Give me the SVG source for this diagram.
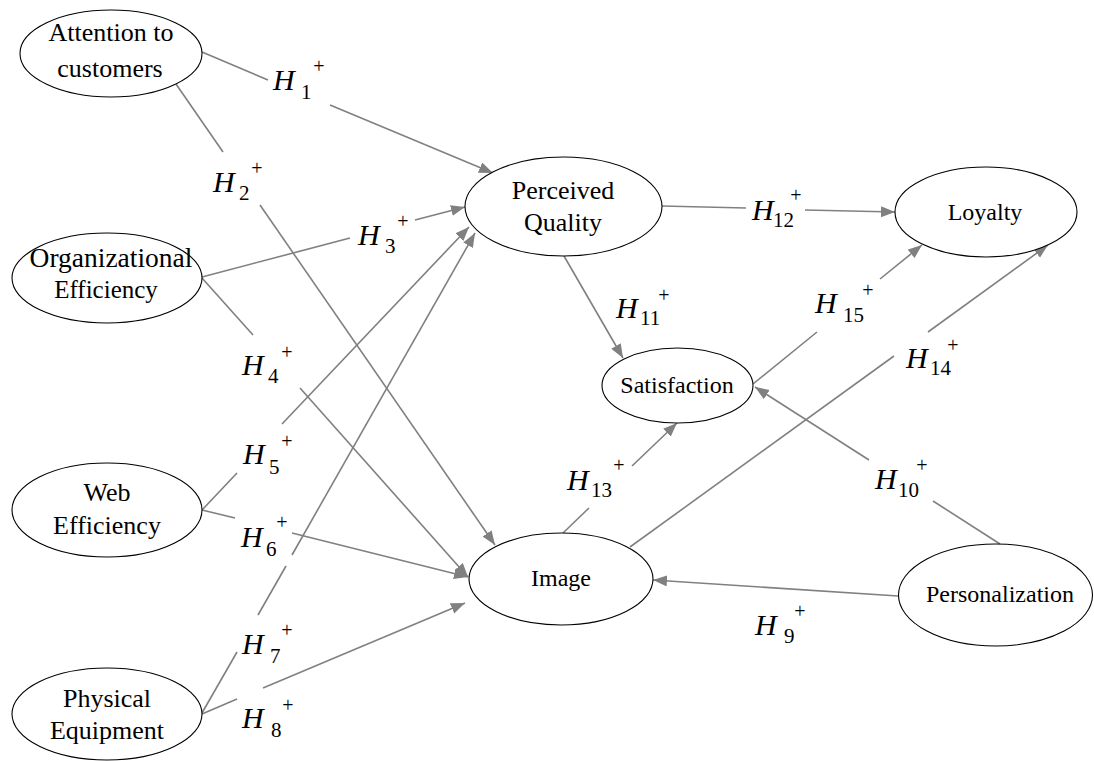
<svg xmlns="http://www.w3.org/2000/svg" width="1094" height="761" viewBox="0 0 1094 761">
<style>
.node ellipse{fill:#fff;stroke:#000;stroke-width:1.1}
.node text{fill:#000;text-anchor:middle}
.t26{font-size:26px}
.t24{font-size:24px}
#connectors line{stroke:#808080;stroke-width:1.6;fill:none}
.lbl text{fill:#000}
.lbl .h{font-size:30px;font-style:italic}
.lbl .s{font-size:21px}
.lbl .p{font-size:20px;text-anchor:middle}
</style>
<defs>
<marker id="arr" markerUnits="userSpaceOnUse" markerWidth="15" markerHeight="12" refX="14" refY="5.5" orient="auto">
<path d="M0,0 L14,5.5 L0,11 z" fill="#808080"/>
</marker>
</defs>
<rect width="1094" height="761" fill="#fff"/>

<g id="connectors">
<line x1="202" y1="52" x2="268" y2="80"/>
<line x1="330" y1="105" x2="493" y2="173" marker-end="url(#arr)"/>
<line x1="176" y1="84" x2="223" y2="152"/>
<line x1="260" y1="205" x2="495" y2="545" marker-end="url(#arr)"/>
<line x1="202" y1="277" x2="350" y2="238"/>
<line x1="415" y1="220" x2="465" y2="207" marker-end="url(#arr)"/>
<line x1="202" y1="278" x2="253" y2="335"/>
<line x1="300" y1="388" x2="468" y2="577" marker-end="url(#arr)"/>
<line x1="202" y1="510" x2="237" y2="473"/>
<line x1="282" y1="424" x2="469" y2="227" marker-end="url(#arr)"/>
<line x1="202" y1="510" x2="235" y2="518"/>
<line x1="292" y1="533" x2="468" y2="577" marker-end="url(#arr)"/>
<line x1="202" y1="713" x2="237" y2="652"/>
<line x1="258" y1="615" x2="286" y2="566"/>
<line x1="292" y1="555" x2="475" y2="233" marker-end="url(#arr)"/>
<line x1="202" y1="714" x2="237" y2="699"/>
<line x1="263" y1="688" x2="465" y2="603" marker-end="url(#arr)"/>
<line x1="898" y1="596" x2="653" y2="580" marker-end="url(#arr)"/>
<line x1="1000" y1="544" x2="933" y2="501"/>
<line x1="869" y1="460" x2="755" y2="387" marker-end="url(#arr)"/>
<line x1="564" y1="256" x2="623" y2="358" marker-end="url(#arr)"/>
<line x1="662" y1="206" x2="746" y2="208"/>
<line x1="805" y1="210" x2="895" y2="212" marker-end="url(#arr)"/>
<line x1="563" y1="533" x2="589" y2="508"/>
<line x1="632" y1="466" x2="677" y2="423" marker-end="url(#arr)"/>
<line x1="630" y1="547" x2="894" y2="356"/>
<line x1="928" y1="332" x2="1048" y2="245" marker-end="url(#arr)"/>
<line x1="753" y1="384" x2="817" y2="332"/>
<line x1="880" y1="279" x2="922" y2="245" marker-end="url(#arr)"/>
</g>

<g id="nodes" font-family="'Liberation Serif', Tinos, 'Times New Roman', 'DejaVu Serif', serif">
<g id="n-attention" class="node">
<ellipse cx="111" cy="53.5" rx="91" ry="43.5"/>
<text class="t26" x="111" y="41">Attention to</text>
<text class="t26" x="110" y="77">customers</text>
</g>
<g id="n-organizational" class="node">
<ellipse cx="107" cy="278" rx="95" ry="45"/>
<text x="111" y="267" font-size="27.5">Organizational</text>
<text x="106" y="298" font-size="25">Efficiency</text>
</g>
<g id="n-web" class="node">
<ellipse cx="107" cy="510" rx="95" ry="47"/>
<text class="t26" x="107" y="501">Web</text>
<text class="t26" x="107" y="534">Efficiency</text>
</g>
<g id="n-physical" class="node">
<ellipse cx="107" cy="714" rx="95" ry="46"/>
<text class="t26" x="107" y="707">Physical</text>
<text class="t26" x="107" y="739">Equipment</text>
</g>
<g id="n-quality" class="node">
<ellipse cx="563.5" cy="206.5" rx="98.5" ry="49.5"/>
<text class="t26" x="563" y="199">Perceived</text>
<text class="t26" x="563" y="231">Quality</text>
</g>
<g id="n-loyalty" class="node">
<ellipse cx="986" cy="212" rx="91" ry="45"/>
<text class="t24" x="985" y="220">Loyalty</text>
</g>
<g id="n-satisfaction" class="node">
<ellipse cx="677.5" cy="385.5" rx="75.5" ry="37.5"/>
<text class="t24" x="677" y="393">Satisfaction</text>
</g>
<g id="n-image" class="node">
<ellipse cx="561" cy="579" rx="92" ry="46"/>
<text class="t24" x="561" y="586">Image</text>
</g>
<g id="n-personalization" class="node">
<ellipse cx="995.5" cy="595" rx="97" ry="51"/>
<text class="t24" x="1000" y="602">Personalization</text>
</g>
</g>

<g id="labels" font-family="'Liberation Serif', Tinos, 'Times New Roman', 'DejaVu Serif', serif">
<g class="lbl"><text class="h" x="273" y="90">H</text><text class="s" x="301" y="99">1</text><text class="p" x="319" y="73">+</text></g>
<g class="lbl"><text class="h" x="213" y="192">H</text><text class="s" x="239" y="200">2</text><text class="p" x="257" y="175">+</text></g>
<g class="lbl"><text class="h" x="358" y="245">H</text><text class="s" x="385" y="253">3</text><text class="p" x="403" y="228">+</text></g>
<g class="lbl"><text class="h" x="242" y="375">H</text><text class="s" x="268" y="383">4</text><text class="p" x="287" y="359">+</text></g>
<g class="lbl"><text class="h" x="243" y="464">H</text><text class="s" x="269" y="474">5</text><text class="p" x="287" y="448">+</text></g>
<g class="lbl"><text class="h" x="241" y="547">H</text><text class="s" x="266" y="556">6</text><text class="p" x="282" y="529">+</text></g>
<g class="lbl"><text class="h" x="242" y="654">H</text><text class="s" x="270" y="663">7</text><text class="p" x="287" y="637">+</text></g>
<g class="lbl"><text class="h" x="242" y="728">H</text><text class="s" x="271" y="737">8</text><text class="p" x="288" y="712">+</text></g>
<g class="lbl"><text class="h" x="755" y="635">H</text><text class="s" x="784" y="643">9</text><text class="p" x="800" y="618">+</text></g>
<g class="lbl"><text class="h" x="875" y="489">H</text><text class="s" x="898" y="497">10</text><text class="p" x="922" y="472">+</text></g>
<g class="lbl"><text class="h" x="616" y="318">H</text><text class="s" x="640" y="325">11</text><text class="p" x="664" y="302">+</text></g>
<g class="lbl"><text class="h" x="752" y="220">H</text><text class="s" x="773" y="227">12</text><text class="p" x="796" y="202">+</text></g>
<g class="lbl"><text class="h" x="567" y="490">H</text><text class="s" x="591" y="497">13</text><text class="p" x="619" y="472">+</text></g>
<g class="lbl"><text class="h" x="906" y="368">H</text><text class="s" x="930" y="375">14</text><text class="p" x="953" y="352">+</text></g>
<g class="lbl"><text class="h" x="815" y="313">H</text><text class="s" x="843" y="322">15</text><text class="p" x="868" y="297">+</text></g>
</g>
</svg>
